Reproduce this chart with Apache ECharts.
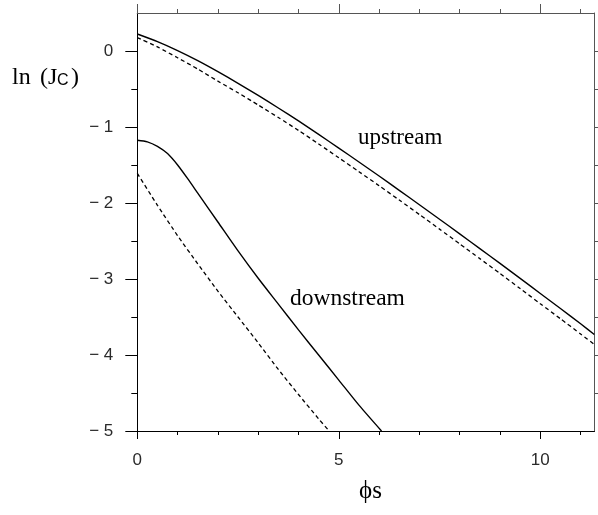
<!DOCTYPE html>
<html>
<head>
<meta charset="utf-8">
<script src="https://cdn.jsdelivr.net/npm/echarts@6/dist/echarts.min.js"></script>
<style>
  html, body { margin: 0; padding: 0; background: #fff; }
  #chart { width: 598px; height: 515px; }
</style>
</head>
<body>
<div id="chart"></div>
<script>
// Critical current vs. phase: ln(Jc) for upstream and downstream cases
const upPhi          = [0, 0.5, 1, 1.5, 2, 2.5, 3, 3.5, 4, 4.5, 5, 5.5, 6, 6.5, 7, 7.5, 8, 8.5, 9, 9.5, 10, 10.5, 11, 11.34];
const upSolid        = [0.224, 0.124, 0.006, -0.127, -0.272, -0.425, -0.585, -0.75, -0.92, -1.098, -1.278, -1.46, -1.645, -1.833, -2.023, -2.214, -2.406, -2.60, -2.795, -2.992, -3.19, -3.388, -3.588, -3.73];
const upDashed       = [0.176, 0.054, -0.089, -0.237, -0.397, -0.55, -0.71, -0.875, -1.045, -1.223, -1.405, -1.588, -1.773, -1.961, -2.152, -2.344, -2.537, -2.732, -2.928, -3.126, -3.325, -3.523, -3.723, -3.86];

const downSolidPhi   = [0, 0.25, 0.5, 0.75, 1, 1.25, 1.5, 2, 2.5, 3, 3.5, 4, 4.5, 5, 5.5, 6.06];
const downSolid      = [-1.174, -1.195, -1.255, -1.35, -1.50, -1.68, -1.87, -2.25, -2.63, -2.99, -3.33, -3.67, -4.00, -4.33, -4.66, -5.0];
const downDashedPhi  = [0, 0.5, 1, 1.5, 2, 2.5, 3, 3.5, 4, 4.5, 4.76];
const downDashed     = [-1.61, -2.03, -2.43, -2.80, -3.16, -3.50, -3.84, -4.19, -4.52, -4.84, -5.0];

const xMajor = [0, 5, 10];
const xMinor = [1, 2, 3, 4, 6, 7, 8, 9, 11];
const yMajor = [-5, -4, -3, -2, -1, 0];
const yMinor = [-4.5, -3.5, -2.5, -1.5, -0.5];
const yRight = [-4.5, -4, -3.5, -3, -2.5, -2, -1.5, -1, -0.5, 0];

const X_MIN = 0, X_MAX = 11.34, Y_MIN = -5, Y_MAX = 0.5;

const zip = (xs, ys) => xs.map((x, i) => [x, ys[i]]);

const tickFont = { fontFamily: 'Liberation Sans', fontSize: 17, color: '#2a2a2a' };
const frameDark = '#000';
const frameLight = '#555';

function xAxis(position, values, len, color, showLabels) {
  return {
    type: 'value', position, min: X_MIN, max: X_MAX,
    axisLine: { show: true, onZero: false, lineStyle: { color, width: 1 } },
    axisTick: { show: true, inside: false, length: len, customValues: values, lineStyle: { color, width: 1 } },
    axisLabel: showLabels
      ? Object.assign({ show: true, customValues: values, margin: 21 }, tickFont)
      : { show: false },
    splitLine: { show: false }
  };
}
function yAxis(position, values, len, color, showLabels) {
  return {
    type: 'value', position, min: Y_MIN, max: Y_MAX,
    axisLine: { show: true, onZero: false, lineStyle: { color, width: 1 } },
    axisTick: { show: true, inside: false, length: len, customValues: values, lineStyle: { color, width: 1 } },
    axisLabel: showLabels
      ? Object.assign({
          show: true, customValues: values, margin: 24,
          formatter: v => (v < 0 ? '\u2212 ' + Math.abs(v) : String(v))
        }, tickFont)
      : { show: false },
    splitLine: { show: false }
  };
}

const chart = echarts.init(document.getElementById('chart'), null, { renderer: 'canvas' });

const serifFont = "'Liberation Serif', 'Times New Roman', serif";

chart.setOption({
  animation: false,
  backgroundColor: '#fff',
  grid: { left: 137.3, right: 3.7, top: 13, bottom: 84, containLabel: false },
  xAxis: [
    xAxis('bottom', xMajor, 8, frameDark, true),
    xAxis('bottom', xMinor, 4, frameDark, false),
    xAxis('top', xMajor, 9, frameLight, false),
    xAxis('top', xMinor, 4, frameLight, false)
  ],
  yAxis: [
    yAxis('left', yMajor, 12, frameDark, true),
    yAxis('left', yMinor, 6, frameDark, false),
    yAxis('right', yRight, 4, frameLight, false)
  ],
  series: [
    { name: 'upstream', type: 'line', data: zip(upPhi, upSolid), smooth: 0.2, showSymbol: false,
      lineStyle: { color: '#000', width: 1.4, type: 'solid' } },
    { name: 'upstream (dashed)', type: 'line', data: zip(upPhi, upDashed), smooth: 0.2, showSymbol: false,
      lineStyle: { color: '#000', width: 1.3, type: [4, 3] } },
    { name: 'downstream', type: 'line', data: zip(downSolidPhi, downSolid), smooth: 0.25, showSymbol: false,
      lineStyle: { color: '#000', width: 1.4, type: 'solid' } },
    { name: 'downstream (dashed)', type: 'line', data: zip(downDashedPhi, downDashed), smooth: 0.2, showSymbol: false,
      lineStyle: { color: '#000', width: 1.3, type: [4, 3] } }
  ],
  graphic: [
    { type: 'text', left: 12, top: 66, style: { text: 'ln', font: '24px ' + serifFont, fill: '#000' } },
    { type: 'text', left: 40, top: 66, style: { text: '(J', font: '24px ' + serifFont, fill: '#000' } },
    { type: 'text', left: 57, top: 72.5, style: { text: 'C', font: "16px 'Liberation Sans', sans-serif", fill: '#000' } },
    { type: 'text', left: 71, top: 66, style: { text: ')', font: '24px ' + serifFont, fill: '#000' } },
    { type: 'text', left: 358, top: 126, style: { text: 'upstream', font: '23px ' + serifFont, fill: '#000' } },
    { type: 'text', left: 290, top: 287, style: { text: 'downstream', font: '23.5px ' + serifFont, fill: '#000' } },
    { type: 'text', left: 359, top: 479, style: { text: '\u03D5s', font: '25px ' + serifFont, fill: '#000' } }
  ]
});
</script>
</body>
</html>
